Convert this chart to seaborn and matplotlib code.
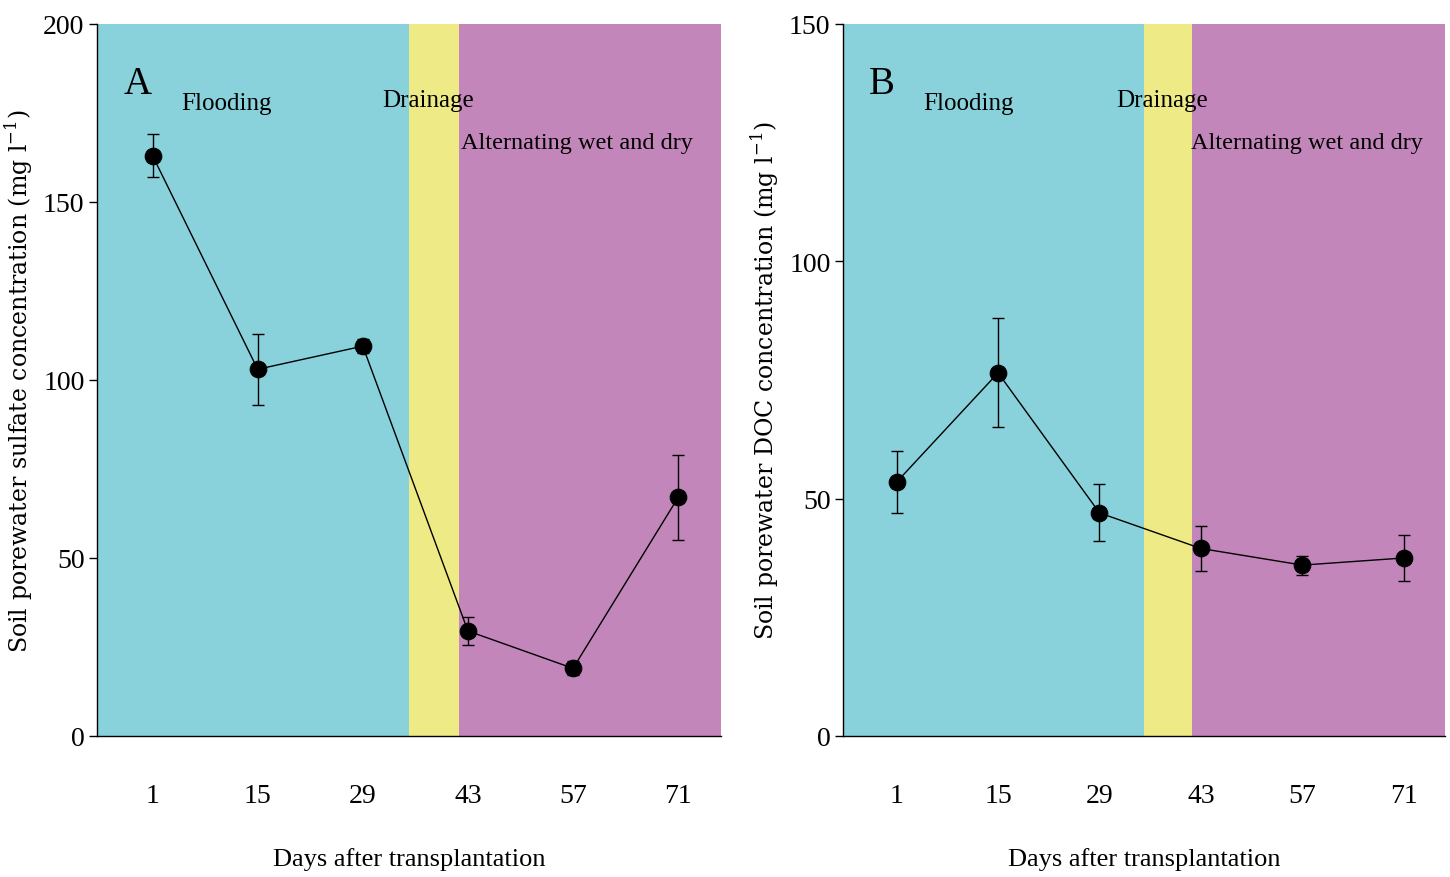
import matplotlib.pyplot as plt
import seaborn as sns
import numpy as np

sns.set_theme(style="white")
plt.rcParams['font.family'] = ['Liberation Serif', 'DejaVu Serif']
plt.rcParams['mathtext.fontset'] = 'custom'
plt.rcParams['mathtext.rm'] = 'DejaVu Serif'
plt.rcParams.update({
    'text.color': 'black',
    'axes.labelcolor': 'black',
    'xtick.color': 'black',
    'ytick.color': 'black',
})

# data
days = [1, 15, 29, 43, 57, 71]
sulfate = [163, 103, 109.5, 29.5, 19, 67]
sulfate_err = [6, 10, 2, 4, 2, 12]
doc = [53.5, 76.5, 47, 39.5, 36, 37.5]
doc_err = [6.5, 11.5, 6, 4.8, 2, 4.8]

# management phases (day boundaries)
phase_names = ['Flooding', 'Drainage', 'Alternating wet and dry']
phase_edges = [-6.4, 35.1, 41.8, 76.7]
phase_colors = ['#89d1db', '#eeeb87', '#c286ba']

fig = plt.figure(figsize=(14.5, 8.78), dpi=100)
ax_a = fig.add_axes([0.0669, 0.1606, 0.4303, 0.811])
ax_b = fig.add_axes([0.5814, 0.1606, 0.4152, 0.811])


def draw_panel(ax, y, yerr, ymax, yticks, letter, ylabel):
    for i in range(3):
        ax.axvspan(phase_edges[i], phase_edges[i + 1], color=phase_colors[i], lw=0, zorder=0)
    ax.errorbar(days, y, yerr=yerr, fmt='none', ecolor='black', elinewidth=1,
                capsize=4, capthick=1, zorder=2)
    sns.lineplot(x=days, y=y, ax=ax, color='black', lw=1, marker='o', markersize=12,
                 markeredgecolor='black', markerfacecolor='black', zorder=3)
    ax.set_xlim(phase_edges[0], phase_edges[-1])
    ax.set_ylim(0, ymax)
    ax.set_xticks(days)
    ax.set_yticks(yticks)
    ax.set_xticklabels([str(d) for d in days], fontsize=20)
    ax.set_yticklabels([str(t) for t in yticks], fontsize=20)
    ax.tick_params(axis='x', direction='in', length=10, width=1, color='black', pad=34)
    ax.tick_params(axis='y', direction='out', length=6, width=1, color='black', pad=3, left=True)
    for s in ['top', 'right']:
        ax.spines[s].set_visible(False)
    for s in ['left', 'bottom']:
        ax.spines[s].set_color('black')
        ax.spines[s].set_linewidth(1)
    ax.set_xlabel('Days after transplantation', fontsize=19, labelpad=28)
    ax.set_ylabel(ylabel, fontsize=17, labelpad=5, family='DejaVu Serif')
    ax.text(0.065, 0.917, letter, transform=ax.transAxes, fontsize=28, ha='center', va='center')
    ax.text(0.208, 0.889, phase_names[0], transform=ax.transAxes, fontsize=18, ha='center', va='center')
    ax.text(0.530, 0.893, phase_names[1], transform=ax.transAxes, fontsize=18, ha='center', va='center')
    ax.text(0.770, 0.833, phase_names[2], transform=ax.transAxes, fontsize=17.5, ha='center', va='center')


draw_panel(ax_a, sulfate, sulfate_err, 200, [0, 50, 100, 150, 200], 'A',
           'Soil porewater sulfate concentration (mg l$^{-1}$)')
draw_panel(ax_b, doc, doc_err, 150, [0, 50, 100, 150], 'B',
           'Soil porewater DOC concentration (mg l$^{-1}$)')

plt.savefig('out.png', dpi=100)
plt.close()
